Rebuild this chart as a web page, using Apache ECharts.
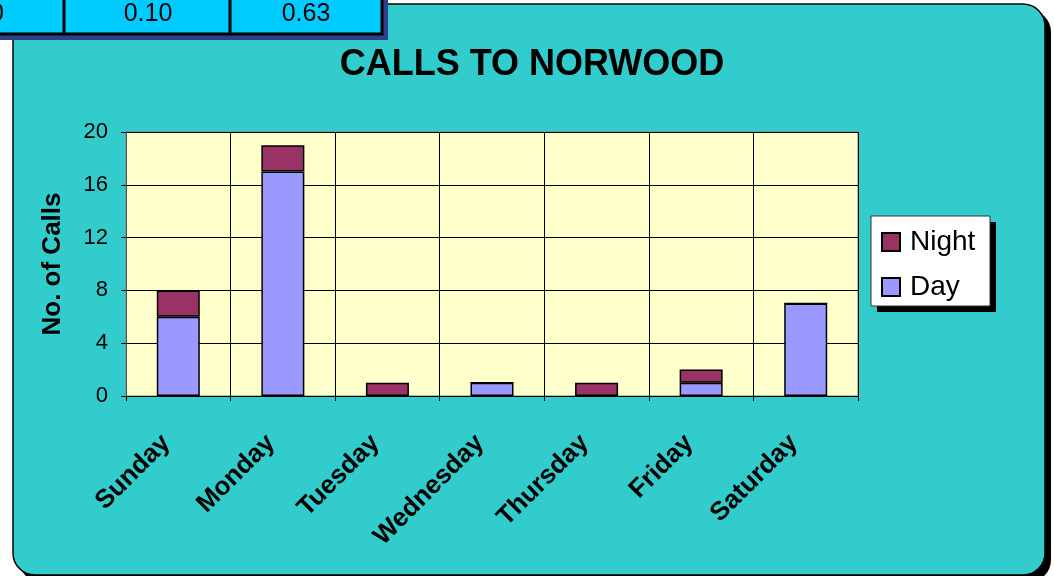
<!DOCTYPE html>
<html style="height: 100%">
<head>
    <meta charset="utf-8">
</head>
<body style="height: 100%; margin: 0; background: #fff">
<div id="container" style="width: 1054px; height: 576px"></div>
<script type="text/javascript" src="https://cdn.jsdelivr.net/npm/echarts@6/dist/echarts.min.js"></script>
<script type="text/javascript">
    var days = ['Sunday', 'Monday', 'Tuesday', 'Wednesday', 'Thursday', 'Friday', 'Saturday'];
    var dayCalls = [6, 17, 0, 1, 0, 1, 7];
    var nightCalls = [2, 2, 1, 0, 1, 1, 0];
    var yTicks = {min: 0, max: 20, interval: 4};
    // cells of the table that pokes in at the top left
    var tableCells = ['0', '0.10', '0.63'];

    var font = '"Liberation Sans", Arial, sans-serif';
    var dom = document.getElementById("container");
    var myChart = echarts.init(dom);

    var graphics = [
        // panel shadow + panel
        {type: 'rect', z: -10, shape: {x: 19, y: 10, width: 1032, height: 572, r: 22},
            style: {fill: '#000'}},
        {type: 'rect', z: -9, shape: {x: 13, y: 4, width: 1032, height: 571, r: 22},
            style: {fill: '#33CCCC', stroke: '#000', lineWidth: 1.5}},
        // legend box
        {type: 'rect', z: -8, shape: {x: 877, y: 222, width: 119, height: 90},
            style: {fill: '#000'}},
        {type: 'rect', z: -7, shape: {x: 871, y: 216, width: 119, height: 90},
            style: {fill: '#fff', stroke: '#333', lineWidth: 1}},
        // table fragment
        {type: 'rect', z: -6, shape: {x: -10, y: -10, width: 398, height: 50},
            style: {fill: '#2E3F8C'}},
        {type: 'rect', z: -5, shape: {x: -10, y: -10, width: 392, height: 44},
            style: {fill: '#00CCFF', stroke: '#000', lineWidth: 3}},
        {type: 'line', z: -5, shape: {x1: 64, y1: -5, x2: 64, y2: 33},
            style: {stroke: '#000', lineWidth: 3}},
        {type: 'line', z: -5, shape: {x1: 230, y1: -5, x2: 230, y2: 33},
            style: {stroke: '#000', lineWidth: 3}}
    ];
    var cellCenters = [-3, 148, 306];
    tableCells.forEach(function (t, i) {
        graphics.push({type: 'text', z: -4, x: cellCenters[i], y: 14,
            style: {text: t, fill: '#000', font: '25px ' + font, align: 'center', verticalAlign: 'middle'}});
    });

    option = {
        backgroundColor: '#fff',
        animation: false,
        title: {
            text: 'CALLS TO NORWOOD',
            left: 527,
            top: 42,
            textAlign: 'center',
            textStyle: {fontFamily: font, fontWeight: 'bold', fontSize: 36, color: '#000'}
        },
        legend: {
            orient: 'vertical',
            left: 876,
            top: 222,
            itemWidth: 18,
            itemHeight: 18,
            itemGap: 15,
            icon: 'rect',
            data: ['Night', 'Day'],
            textStyle: {fontFamily: font, fontSize: 28, color: '#000', lineHeight: 30, padding: [0, 0, 0, 5]}
        },
        grid: {
            left: 126, right: 196, top: 132, bottom: 180,
            show: true,
            backgroundColor: '#FFFFCC',
            borderColor: '#808080',
            borderWidth: 1
        },
        graphic: graphics,
        xAxis: {
            type: 'category',
            data: days,
            axisLine: {lineStyle: {color: '#000', width: 1}},
            axisTick: {show: true, length: 5, lineStyle: {color: '#000'}},
            splitLine: {show: true, lineStyle: {color: '#000', width: 1}},
            axisLabel: {
                rotate: 45, margin: 31, interval: 0, padding: [0, 17, 0, 0],
                fontFamily: font, fontWeight: 'bold', fontSize: 26, color: '#000'
            }
        },
        yAxis: {
            type: 'value',
            min: yTicks.min, max: yTicks.max, interval: yTicks.interval,
            name: 'No. of Calls',
            nameLocation: 'middle',
            nameRotate: 90,
            nameGap: 60,
            nameTextStyle: {fontFamily: font, fontWeight: 'bold', fontSize: 26, color: '#000'},
            axisLine: {show: true, lineStyle: {color: '#555', width: 1}},
            axisTick: {show: true, length: 5, lineStyle: {color: '#000'}},
            splitLine: {lineStyle: {color: '#000', width: 1}},
            axisLabel: {margin: 18, fontFamily: font, fontSize: 22, color: '#000'}
        },
        series: [
            {
                name: 'Day', type: 'bar', stack: 'calls', barWidth: 43,
                itemStyle: {color: '#9999FF', borderColor: '#000', borderWidth: 1.5},
                data: dayCalls
            },
            {
                name: 'Night', type: 'bar', stack: 'calls', barWidth: 43,
                itemStyle: {color: '#993366', borderColor: '#000', borderWidth: 1.5},
                data: nightCalls
            }
        ]
    };
    myChart.setOption(option, true);
</script>
</body>
</html>
